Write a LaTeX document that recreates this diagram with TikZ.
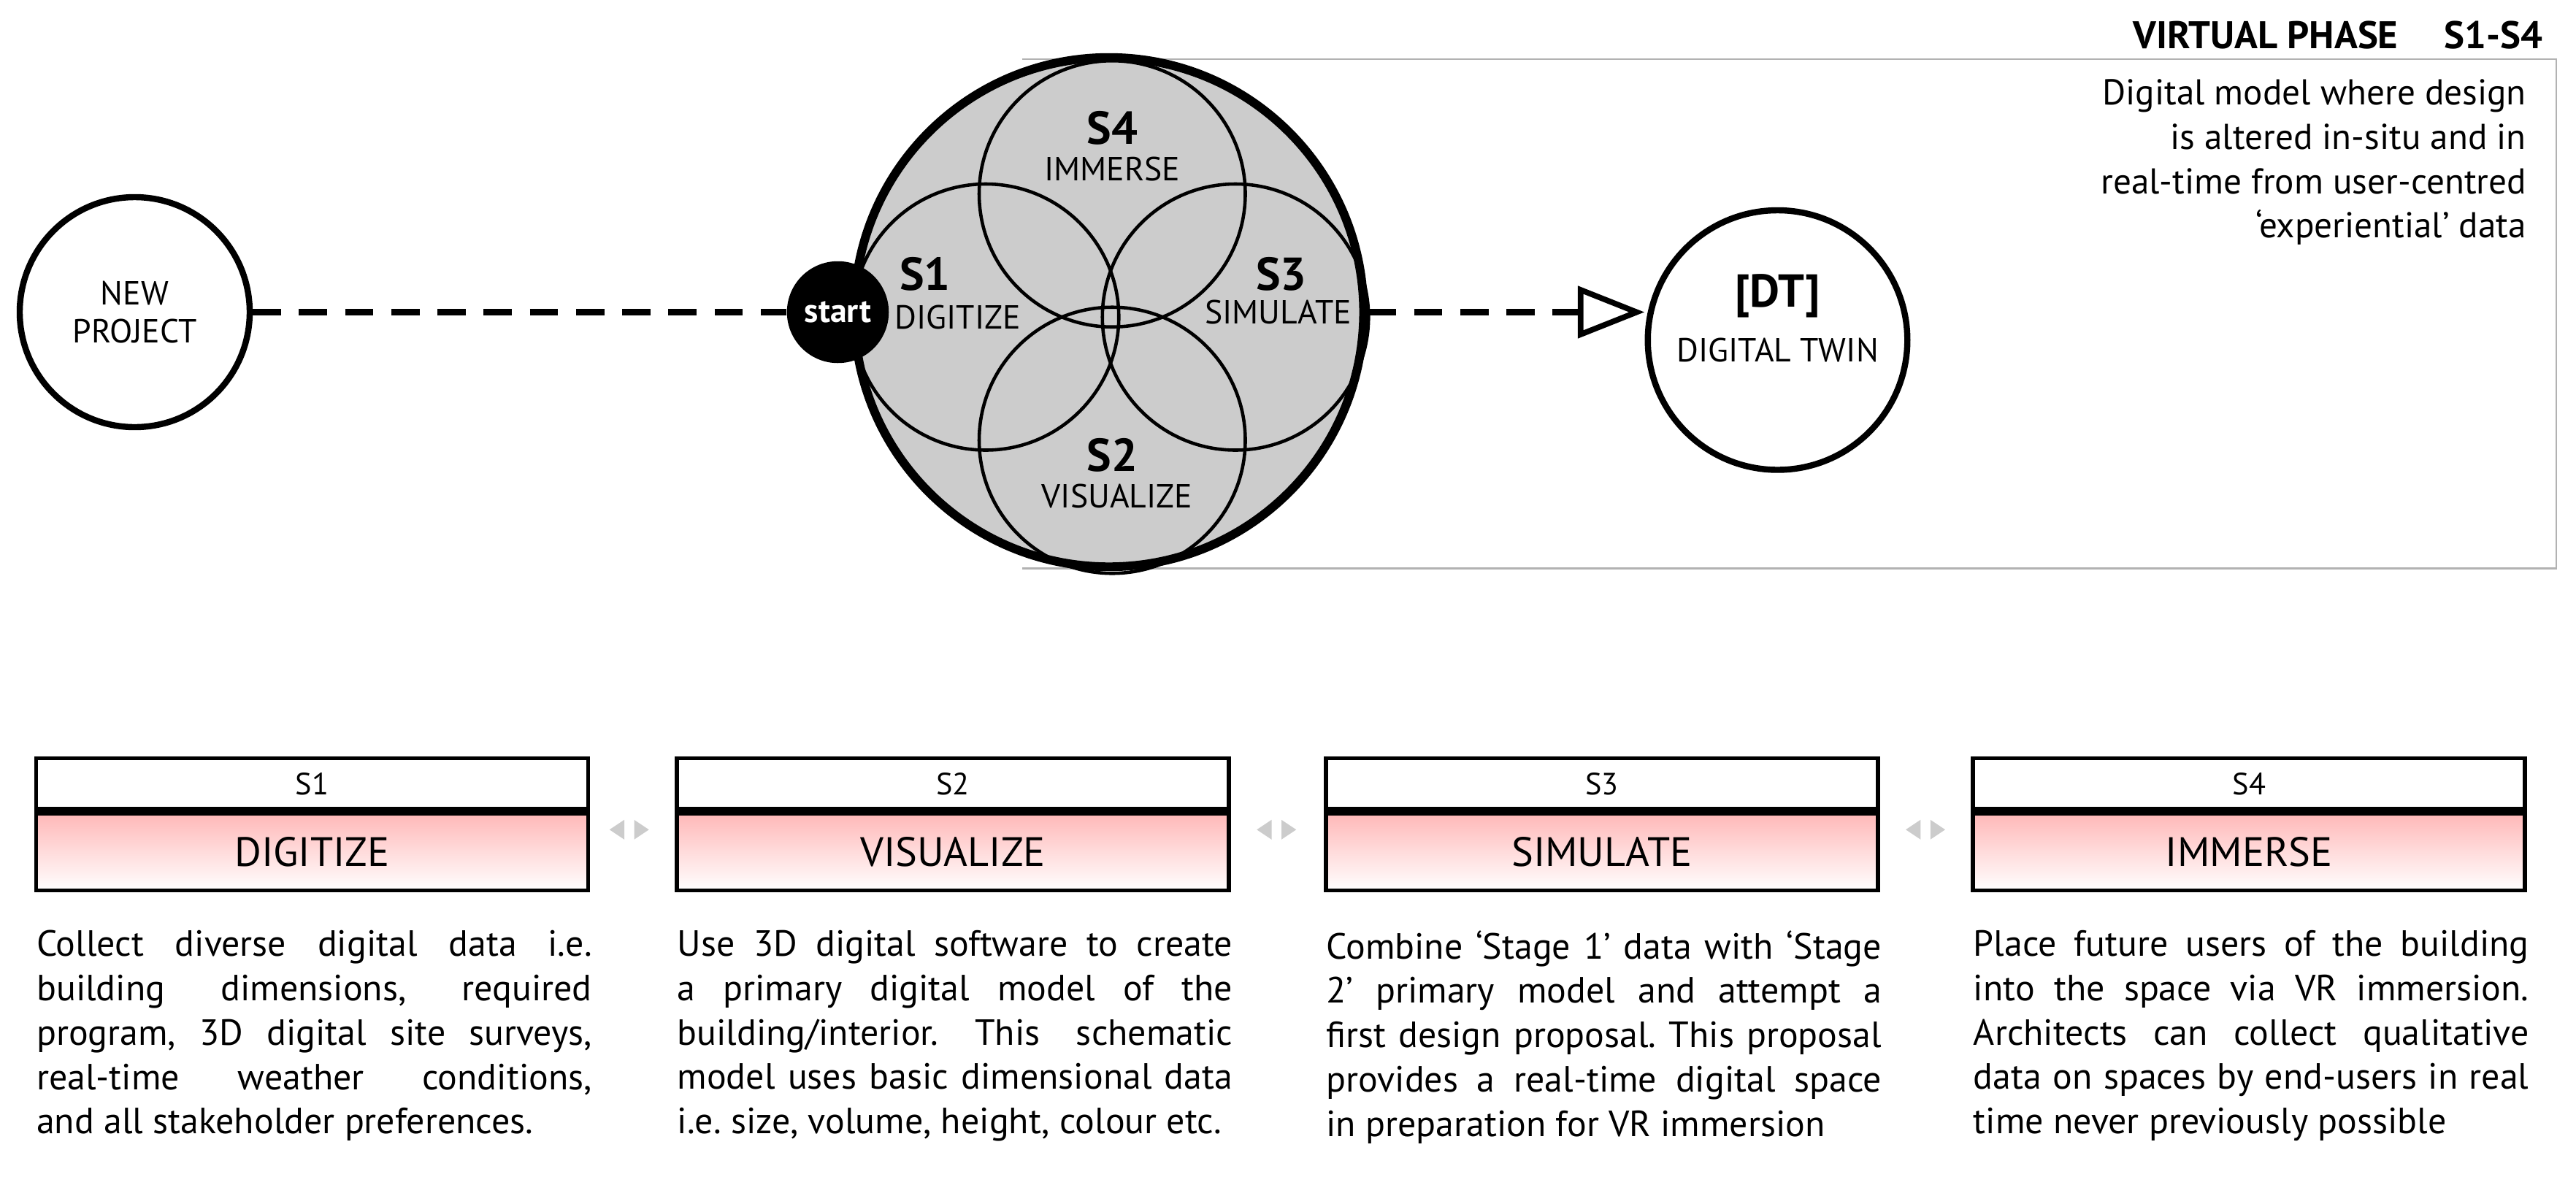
\documentclass[tikz,border=0pt]{standalone}
\usepackage{fontspec}
\setmainfont{PT Sans}
\usetikzlibrary{arrows.meta}
\frenchspacing
\begin{document}
\begin{tikzpicture}[x=0.0225cm,y=-0.0225cm,
  ring/.style={circle,draw,line width=2.4pt,fill=white,inner sep=0pt},
  lens/.style={draw,line width=1.3pt},
  lbl/.style={font=\fontsize{13}{15}\selectfont,align=center},
  big/.style={font=\bfseries\fontsize{18}{20}\selectfont},
  hdr/.style={draw,line width=1.6pt,minimum width=336*0.0225cm,minimum height=31*0.0225cm,font=\fontsize{12}{14}\selectfont,inner sep=0pt},
  ttl/.style={draw,line width=1.6pt,minimum width=336*0.0225cm,minimum height=47*0.0225cm,font=\fontsize{16}{18}\selectfont,inner sep=0pt,top color=red!28,bottom color=white},
  desc/.style={text width=338*0.0225cm,align=justify,font=\fontsize{14.2}{17.3}\selectfont,inner sep=0pt,anchor=north west},
  dashline/.style={line width=2.6pt,dash pattern=on 11pt off 7pt},
  tri/.style={fill=black!20,draw=none}]
\useasboundingbox (0,0) rectangle (1568,716);
% frame
\node[anchor=south east,font=\bfseries\fontsize{15}{17}\selectfont,inner sep=0pt] (vp) at (1548,30) {VIRTUAL PHASE\hspace{1.2em}S1-S4};
\draw[black!30,line width=0.8pt] (622,36) -- (1556,36) -- (1556,346) -- (622,346);
\node[anchor=north east,align=right,font=\fontsize{14}{17.3}\selectfont,inner sep=0pt] (dm) at (1538,48) {Digital model where design\\is altered in-situ and in\\real-time from user-centred\\‘experiential’ data};
% new project
\node[ring,minimum size=140*0.0225cm,lbl] (np) at (82,190) {NEW\\PROJECT};
% big circle
\node[circle,draw,line width=3.4pt,fill=black!20,minimum size=310*0.0225cm,inner sep=0pt] (big) at (675,190) {};
\draw[lens] (677,118) circle (81);
\draw[lens] (600,193) circle (81);
\draw[lens] (752,193) circle (81);
\draw[lens] (677,268) circle (81);
\node[big] (s4) at (677,78) {S4};
\node[lbl] (im) at (677,103) {IMMERSE};
\node[big] (s1) at (563,167) {S1};
\node[lbl] (di) at (583,193) {DIGITIZE};
\node[big] (s3) at (780,167) {S3};
\node[lbl] (si) at (778,190) {SIMULATE};
\node[big] (s2) at (677,277) {S2};
\node[lbl] (vi) at (680,302) {VISUALIZE};
\node[circle,fill=black,minimum size=62*0.0225cm,inner sep=0pt,text=white,font=\bfseries\fontsize{13}{15}\selectfont] (st) at (510,190) {start};
\draw[dashline] (np) -- (st);
% DT
\node[ring,minimum size=158*0.0225cm] (dt) at (1082,207) {};
\node[big] at (1082,180) {[DT]};
\node[lbl] at (1082,213) {DIGITAL TWIN};
\coordinate (dl) at (1001,190);
\draw[dashline,-{Triangle[open,length=26pt,width=20pt,line width=2.2pt]}] (big.east) -- (dl);
% boxes
\foreach \i/\x/\n/\t in {1/190/S1/DIGITIZE,2/580/S2/VISUALIZE,3/975/S3/SIMULATE,4/1369/S4/IMMERSE}{
  \node[hdr] (h\i) at (\x,477) {\n};
  \node[ttl,anchor=north] (t\i) at (h\i.south) {\t};
}
\foreach \x in {383,777,1172}{
  \fill[tri] (\x-3,499) -- (\x-3,511) -- (\x-12,505) -- cycle;
  \fill[tri] (\x+3,499) -- (\x+3,511) -- (\x+12,505) -- cycle;
}
\node[desc] (d1) at (22,566) {Collect diverse digital data i.e.\linebreak building dimensions, required\linebreak program, 3D digital site surveys,\linebreak real-time weather conditions,\linebreak and all stakeholder preferences.};
\node[desc] (d2) at (412,566) {Use 3D digital software to create\linebreak a primary digital model of the\linebreak building/interior. This schematic\linebreak model uses basic dimensional data\linebreak i.e.\ size, volume, height, colour etc.};
\node[desc] (d3) at (807,566) {Combine ‘Stage 1’ data with ‘Stage\linebreak 2’ primary model and attempt a\linebreak first design proposal. This proposal\linebreak provides a real-time digital space\linebreak in preparation for VR immersion};
\node[desc] (d4) at (1201,566) {Place future users of the building\linebreak into the space via VR immersion.\linebreak Architects can collect qualitative\linebreak data on spaces by end-users in real\linebreak time never previously possible};
\end{tikzpicture}
\end{document}
